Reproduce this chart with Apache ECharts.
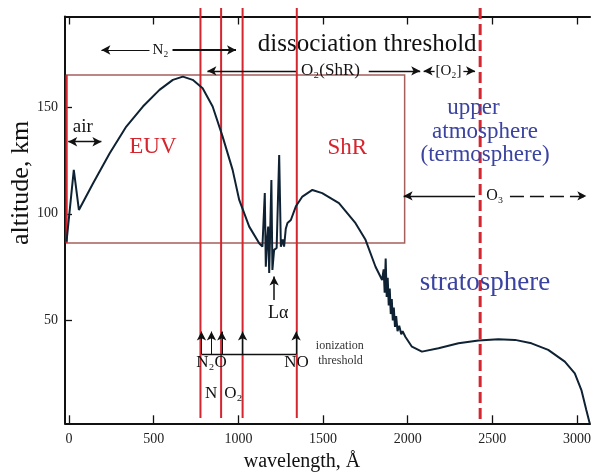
<!DOCTYPE html>
<html>
<head>
<meta charset="utf-8">
<script src="https://cdn.jsdelivr.net/npm/echarts@6/dist/echarts.min.js"></script>
<style>
html,body{margin:0;padding:0;background:#fff}
#chart{width:594px;height:472px}
</style>
</head>
<body>
<div id="chart"></div>
<script>
// penetration altitude of solar radiation vs wavelength
var wavelength = [-15, 28, 58, 142, 240, 338, 436, 534, 613, 672, 730, 789, 848, 907, 966, 1005, 1064, 1123,
    1142, 1156, 1162, 1170, 1176, 1182, 1195, 1201, 1211, 1226, 1241, 1251, 1262, 1270, 1280, 1290, 1310,
    1339, 1378, 1437, 1495, 1594, 1692, 1751, 1810, 1849, 1858, 1864, 1870, 1876, 1882, 1888, 1894, 1900,
    1906, 1912, 1918, 1925, 1932, 1940, 1950, 1962, 1970, 1986, 2025, 2084, 2182, 2300, 2418, 2535, 2634,
    2731, 2830, 2928, 2987, 3026, 3055, 3075];
var altitude = [87, 120.6, 101.8, 114.3, 128.4, 140.9, 150.3, 158.1, 162.8, 164.3, 162.8, 158.9, 150.3, 136.2, 120.6, 106.5, 94, 86.2,
    84.6, 109.7, 75.2, 88, 94, 72.3, 115.9, 73.7, 83.1, 84, 127.6, 84.6, 88, 84.6, 93, 95.7, 97.1,
    103.4, 108.1, 111.2, 109.7, 105, 95.6, 87.8, 75.2, 69, 74, 63, 79, 61, 70, 57, 65, 53,
    60, 50, 56, 47, 52, 45, 47.5, 43.5, 45, 42.4, 37.7, 35.4, 37, 39.3, 40.6, 41.2, 40.9,
    39.3, 36.2, 30.7, 25.2, 17.4, 8, 1.8];

var xTicks = [0, 500, 1000, 1500, 2000, 2500, 3000];
var yTicks = [50, 100, 150];

// ionization thresholds N2, O, O2, NO and the O2 dissociation limit (dashed)
var thresholds = [776, 898, 1025, 1345];
var o2Limit = 2428;

var serif = "'Liberation Serif', 'Times New Roman', serif";
var red = '#d5252e';
var blue = '#3a43a0';

var curve = wavelength.map(function (w, i) { return [w, altitude[i]]; });

// vertical lines: [x, top, bottom, dashed]
var vlines = thresholds.map(function (t) { return [t, 196.5, 4.3, 0]; });
vlines.push([o2Limit, 196.5, 1.8, 1]);
vlines.push([-14.6, 165.1, 86.3, 0]);

// arrows: x1, y1, x2, y2, head at start, head at end, width, dashed
var arrows = [
    [475, 176.8, 191, 176.8, 0, 1, 1, 0],
    [611, 176.8, 986, 176.8, 0, 1, 2, 0],
    [1340, 167, 817, 167, 0, 1, 1.3, 0],
    [1770, 167, 2074, 167, 0, 1, 1.3, 0],
    [2159, 167, 2094, 167, 0, 1, 1.3, 0],
    [2329, 167, 2398, 167, 0, 1, 1.3, 0],
    [2398, 108.4, 1976, 108.4, 0, 1, 1.3, 0],
    [2604, 108.4, 3055, 108.4, 0, 1, 1.3, 1],
    [-5, 133.8, 191, 133.8, 1, 1, 1.3, 0],
    [1211, 59.6, 1211, 70.6, 0, 1, 1.5, 0],
    [782, 34.2, 1341, 34.2, 0, 0, 1.3, 0],
    [782, 34.2, 782, 44.8, 0, 1, 1, 0],
    [841, 34.2, 841, 44.8, 0, 1, 1, 0],
    [902, 34.2, 902, 44.8, 0, 1, 1, 0],
    [1025, 34.2, 1025, 44.8, 0, 1, 1, 0],
    [1341, 34.2, 1341, 44.8, 0, 1, 1, 0]
];

// labels: text, x, y, size, colour
var notes = [
    ['dissociation threshold', 1761, 179.2, 25, '#111'],
    ['N\u2082', 540, 176.8, 15, '#111'],
    ['O\u2082(ShR)', 1544, 167, 17, '#111'],
    ['[O\u2082]', 2241, 167, 15, '#111'],
    ['O\u2083', 2515, 108.4, 16, '#111'],
    ['air', 81, 140.7, 19, '#111'],
    ['EUV', 495, 131.5, 23, red],
    ['ShR', 1643, 130.8, 23, red],
    ['upper', 2389, 149.5, 23, blue],
    ['atmosphere', 2457, 138.4, 23, blue],
    ['(termosphere)', 2457, 127.6, 23, blue],
    ['stratosphere', 2457, 67.5, 27, blue],
    ['L\u03b1', 1236, 53.5, 18, '#111'],
    ['N\u2082O', 841, 30.1, 17, '#111'],
    ['N', 839, 15.9, 17, '#111'],
    ['O\u2082', 970, 15.9, 17, '#111'],
    ['NO', 1344, 30.1, 17, '#111'],
    ['ionization', 1599, 38.2, 12, '#333'],
    ['threshold', 1603, 31, 12, '#333']
];

var chart = echarts.init(document.getElementById('chart'));

var plain = function (v) { return String(v); };

var option = {
    animation: false,
    backgroundColor: '#fff',
    grid: { left: 65, right: 2, top: 16.5, bottom: 48.7, containLabel: false },
    xAxis: [{
        type: 'value', min: -24, max: 3077,
        axisLine: { onZero: false, lineStyle: { color: '#111', width: 2 } },
        axisTick: { inside: true, length: 8, customValues: xTicks, lineStyle: { color: '#111', width: 1.3 } },
        axisLabel: { customValues: xTicks, formatter: plain, margin: 9, fontFamily: serif, fontSize: 14, color: '#222' },
        splitLine: { show: false }
    }, {
        type: 'value', position: 'top', min: -24, max: 3077,
        axisLine: { onZero: false, lineStyle: { color: '#111', width: 2 } },
        axisTick: { inside: true, length: 8, customValues: xTicks, lineStyle: { color: '#111', width: 1.3 } },
        axisLabel: { show: false },
        splitLine: { show: false }
    }],
    yAxis: {
        type: 'value', min: 1.8, max: 192.5,
        axisLine: { show: true, onZero: false, lineStyle: { color: '#111', width: 2 } },
        axisTick: { inside: true, length: 7, customValues: yTicks, lineStyle: { color: '#111', width: 1.3 } },
        axisLabel: { customValues: yTicks, formatter: plain, margin: 7, fontFamily: serif, fontSize: 14, color: '#222' },
        splitLine: { show: false }
    },
    graphic: [{
        type: 'text', x: 21, y: 183, rotation: Math.PI / 2,
        style: { text: 'altitude, km', fontFamily: serif, fontSize: 26, fill: '#111',
            textAlign: 'center', textVerticalAlign: 'middle', align: 'center', verticalAlign: 'middle' }
    }, {
        type: 'text', x: 302, y: 462,
        style: { text: 'wavelength, \u00c5', fontFamily: serif, fontSize: 20, fill: '#111',
            textAlign: 'center', textVerticalAlign: 'middle', align: 'center', verticalAlign: 'middle' }
    }],
    series: [{
        name: 'box',
        type: 'line',
        data: [],
        markArea: {
            silent: true,
            itemStyle: { color: 'rgba(0,0,0,0)', borderColor: '#a4605c', borderWidth: 1.5 },
            data: [[{ coord: [-14.6, 165.1] }, { coord: [1982, 86.3] }]]
        }
    }, {
        name: 'thresholds',
        type: 'custom',
        clip: false,
        data: vlines,
        renderItem: function (params, api) {
            var a = api.coord([api.value(0), api.value(1)]);
            var b = api.coord([api.value(0), api.value(2)]);
            var dashed = api.value(3) === 1;
            return {
                type: 'line',
                shape: { x1: a[0], y1: a[1], x2: b[0], y2: b[1] },
                style: { stroke: red, lineWidth: dashed ? 3 : 2, lineDash: dashed ? [11, 5] : null }
            };
        }
    }, {
        name: 'altitude',
        type: 'line',
        data: curve,
        symbol: 'none',
        z: 3,
        lineStyle: { color: '#0f2233', width: 2 },
        markLine: {
            silent: true,
            symbolSize: [7, 9],
            label: { show: false },
            data: arrows.map(function (a) {
                return [{
                    coord: [a[0], a[1]], symbol: a[4] ? 'arrow' : 'none',
                    lineStyle: { color: '#111', width: a[6], type: a[7] ? [14, 6] : 'solid' }
                }, {
                    coord: [a[2], a[3]], symbol: a[5] ? 'arrow' : 'none'
                }];
            })
        },
        markPoint: {
            silent: true,
            symbol: 'circle',
            symbolSize: 1,
            itemStyle: { color: 'rgba(0,0,0,0)' },
            data: notes.map(function (n) {
                return {
                    name: n[0], coord: [n[1], n[2]],
                    label: { show: true, position: 'inside', formatter: '{b}', fontFamily: serif,
                        fontSize: n[3], color: n[4] }
                };
            })
        }
    }]
};

chart.setOption(option);
</script>
</body>
</html>
